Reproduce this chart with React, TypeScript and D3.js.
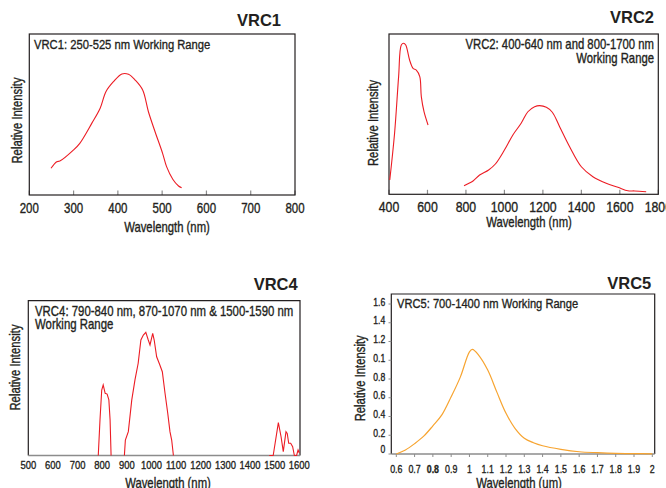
import React from "react";
import * as d3 from "d3";

// ---------- DATA ----------
const vrc1Wavelength = [249, 262, 269, 300, 314, 341, 360, 373, 390, 409, 424, 439, 456, 469, 484, 501, 510, 524, 537, 544];
const vrc1Intensity = [0.166, 0.207, 0.211, 0.28, 0.321, 0.445, 0.539, 0.642, 0.704, 0.752, 0.75, 0.714, 0.652, 0.517, 0.393, 0.259, 0.176, 0.098, 0.056, 0.045];

const vrc2VisWavelength = [404, 429, 450, 464, 476, 487, 507, 525, 542, 560, 568, 582, 603];
const vrc2VisIntensity = [0.089, 0.381, 0.734, 0.931, 0.942, 0.931, 0.838, 0.786, 0.775, 0.734, 0.609, 0.515, 0.432];
const vrc2NirWavelength = [790, 837, 871, 918, 953, 1000, 1044, 1087, 1122, 1157, 1183, 1218, 1249, 1287, 1339, 1400, 1460, 1529, 1590, 1642, 1677, 1737];
const vrc2NirIntensity = [0.054, 0.083, 0.12, 0.152, 0.189, 0.276, 0.37, 0.443, 0.515, 0.546, 0.553, 0.543, 0.512, 0.422, 0.297, 0.172, 0.11, 0.069, 0.044, 0.022, 0.021, 0.016];

const vrc4AWavelength = [784, 791, 798, 804, 812, 820, 827, 832, 836];
const vrc4AIntensity = [0, 0.229, 0.423, 0.456, 0.402, 0.397, 0.359, 0.229, 0];
const vrc4BWavelength = [890, 894, 906, 920, 933, 946, 957, 967, 977, 987, 994, 1005, 1011, 1021, 1034, 1044, 1055, 1066, 1075, 1082, 1089];
const vrc4BIntensity = [0, 0.1, 0.154, 0.359, 0.488, 0.596, 0.746, 0.778, 0.796, 0.746, 0.714, 0.789, 0.746, 0.638, 0.585, 0.541, 0.402, 0.273, 0.154, 0.1, 0];
const vrc4CWavelength = [1478, 1494, 1515, 1526, 1535, 1546, 1551, 1557, 1565, 1573, 1580, 1589, 1595, 1600];
const vrc4CIntensity = [0, 0, 0.212, 0.121, 0.025, 0.154, 0.143, 0.079, 0.079, 0.057, 0, 0, 0.036, 0.016];

const vrc5Wavelength = [0.6, 0.65, 0.7, 0.75, 0.8, 0.85, 0.9, 0.95, 1.0, 1.016, 1.05, 1.1, 1.15, 1.2, 1.25, 1.3, 1.35, 1.4, 1.5, 1.6, 1.7, 1.8, 1.9, 2.0];
const vrc5Intensity = [0.0, 0.043, 0.11, 0.19, 0.3, 0.42, 0.61, 0.82, 1.09, 1.115, 1.055, 0.895, 0.66, 0.434, 0.27, 0.167, 0.12, 0.088, 0.05, 0.024, 0.014, 0.007, 0.004, 0.002];

const vrc1Ticks = [200, 300, 400, 500, 600, 700, 800];
const vrc2Ticks = [400, 600, 800, 1000, 1200, 1400, 1600, 1800];
const vrc4Ticks = [500, 600, 700, 800, 900, 1000, 1100, 1200, 1300, 1400, 1500, 1600];
const vrc5XTicks = [0.6, 0.7, 0.8, 0.9, 1.0, 1.1, 1.2, 1.3, 1.4, 1.5, 1.6, 1.7, 1.8, 1.9, 2.0];
const vrc5XLabels = ["0.6", "0.7", "0.8", "0.9", "1", "1.1", "1.2", "1.3", "1.4", "1.5", "1.6", "1.7", "1.8", "1.9", "2"];
const vrc5YTicks = [0, 0.2, 0.4, 0.6, 0.8, 1.0, 1.2, 1.4, 1.6];
const vrc5YLabels = ["0", "0.2", "0.4", "0.6", "0.8", "0.1", "1.2", "1.4", "1.6"];

// ---------- STYLE ----------
const SANS = "'Liberation Sans',Arial,Helvetica,sans-serif";
const INK = "#231f20";
const RED = "#ec1c24";
const ORANGE = "#f7a430";
const GRAY = "#8c8c8c";
const SQUEEZE = 0.82;

function pts(xs: number[], ys: number[]): [number, number][] {
  return xs.map((x, i) => [x, ys[i]]);
}

// condensed text: regular sans squeezed horizontally, slightly emboldened
function NT(props: { x: number; y: number; size: number; anchor?: string; rot?: boolean; weight?: string; children: React.ReactNode }) {
  const { x, y, size, anchor = "start", rot = false, weight = "normal", children } = props;
  return (
    <text
      transform={`translate(${x},${y})${rot ? " rotate(-90)" : ""} scale(${SQUEEZE},1)`}
      textAnchor={anchor}
      fontFamily={SANS}
      fontSize={size}
      fontWeight={weight}
      fill={INK}
      stroke={INK}
      strokeWidth={0.35}
    >
      {children}
    </text>
  );
}

export default function App() {
  const x1 = d3.scaleLinear().domain([200, 800]).range([29.3, 295]);
  const y1 = d3.scaleLinear().domain([0, 1]).range([195, 34]);
  const l1 = d3.line<[number, number]>().x(d => x1(d[0])).y(d => y1(d[1])).curve(d3.curveCatmullRom);

  const x2 = d3.scaleLinear().domain([400, 1800]).range([389, 658.3]);
  const y2 = d3.scaleLinear().domain([0, 1]).range([194.3, 34]);
  const l2 = d3.line<[number, number]>().x(d => x2(d[0])).y(d => y2(d[1])).curve(d3.curveCatmullRom);

  const x4 = d3.scaleLinear().domain([500, 1600]).range([28.3, 299.3]);
  const y4 = d3.scaleLinear().domain([0, 1]).range([455.5, 300.7]);
  const l4 = d3.line<[number, number]>().x(d => x4(d[0])).y(d => y4(d[1]));

  const x5 = d3.scaleLinear().domain([0.6, 2.0]).range([396.3, 652.3]);
  const y5 = d3.scaleLinear().domain([0, 1.6]).range([454, 304]);
  const l5 = d3.line<[number, number]>().x(d => x5(d[0])).y(d => y5(d[1])).curve(d3.curveCatmullRom);

  return (
    <svg width={666} height={488} style={{ position: "absolute", left: 0, top: 0, background: "#fff" }}>
      <rect width={666} height={488} fill="#fff" />

      {/* ===== VRC1 ===== */}
      <text x={281} y={26} textAnchor="end" fontFamily={SANS} fontWeight="bold" fontSize={16.5} fill={INK}>VRC1</text>
      {vrc1Ticks.map(t => (
        <line key={t} x1={x1(t)} x2={x1(t)} y1={195} y2={190.5} stroke={GRAY} strokeWidth={1.2} />
      ))}
      <rect x={29.3} y={34} width={295 - 29.3} height={195 - 34} fill="none" stroke={INK} strokeWidth={1.2} />
      <NT x={34} y={49.3} size={13.7}>VRC1: 250-525 nm Working Range</NT>
      <path d={l1(pts(vrc1Wavelength, vrc1Intensity)) || ""} fill="none" stroke={RED} strokeWidth={1.1} />
      {vrc1Ticks.map(t => (
        <NT key={t} x={x1(t)} y={213.3} size={14} anchor="middle">{t}</NT>
      ))}
      <NT x={167} y={232} size={13.8} anchor="middle">Wavelength (nm)</NT>
      <NT x={21.5} y={120.5} size={13.8} anchor="middle" rot>Relative Intensity</NT>

      {/* ===== VRC2 ===== */}
      <text x={654} y={22.5} textAnchor="end" fontFamily={SANS} fontWeight="bold" fontSize={16.5} fill={INK}>VRC2</text>
      {vrc2Ticks.map(t => (
        <line key={t} x1={x2(t)} x2={x2(t)} y1={194.3} y2={189.8} stroke={GRAY} strokeWidth={1.2} />
      ))}
      <rect x={389} y={34} width={658.3 - 389} height={194.3 - 34} fill="none" stroke={INK} strokeWidth={1.2} />
      <NT x={654} y={49.3} size={13.8} anchor="end">VRC2: 400-640 nm and 800-1700 nm</NT>
      <NT x={654} y={62.7} size={13.8} anchor="end">Working Range</NT>
      <path d={l2(pts(vrc2VisWavelength, vrc2VisIntensity)) || ""} fill="none" stroke={RED} strokeWidth={1.1} />
      <path d={l2(pts(vrc2NirWavelength, vrc2NirIntensity)) || ""} fill="none" stroke={RED} strokeWidth={1.1} />
      {vrc2Ticks.map(t => (
        <NT key={t} x={x2(t)} y={211.7} size={15} anchor="middle">{t}</NT>
      ))}
      <NT x={529} y={227} size={13.8} anchor="middle">Wavelength (nm)</NT>
      <NT x={378} y={123} size={13.8} anchor="middle" rot>Relative Intensity</NT>

      {/* ===== VRC4 ===== */}
      <text x={297.7} y={290} textAnchor="end" fontFamily={SANS} fontWeight="bold" fontSize={16.5} fill={INK}>VRC4</text>
      <path d={`M28.3,455.5 V300.7 H300 V455.5`} fill="none" stroke={INK} strokeWidth={1.2} />
      <line x1={28.3} x2={300} y1={455.5} y2={455.5} stroke={GRAY} strokeWidth={1.6} />
      <NT x={35} y={315.7} size={13.9}>VRC4: 790-840 nm, 870-1070 nm &amp; 1500-1590 nm</NT>
      <NT x={35} y={329.3} size={13.9}>Working Range</NT>
      <path d={l4(pts(vrc4AWavelength, vrc4AIntensity)) || ""} fill="none" stroke={RED} strokeWidth={1.1} />
      <path d={l4(pts(vrc4BWavelength, vrc4BIntensity)) || ""} fill="none" stroke={RED} strokeWidth={1.1} />
      <path d={l4(pts(vrc4CWavelength, vrc4CIntensity)) || ""} fill="none" stroke={RED} strokeWidth={1.1} />
      {vrc4Ticks.map(t => (
        <NT key={t} x={x4(t)} y={469.3} size={11.5} anchor="middle">{t}</NT>
      ))}
      <NT x={168} y={488} size={13.8} anchor="middle">Wavelength (nm)</NT>
      <NT x={20} y={367.5} size={13.8} anchor="middle" rot>Relative Intensity</NT>

      {/* ===== VRC5 ===== */}
      <text x={651.3} y={289} textAnchor="end" fontFamily={SANS} fontWeight="bold" fontSize={16.5} fill={INK}>VRC5</text>
      <path d={`M391.3,454 V294 H654.7 V454`} fill="none" stroke={INK} strokeWidth={1.2} />
      <line x1={391.3} x2={654.7} y1={454} y2={454} stroke={GRAY} strokeWidth={1.6} />
      {vrc5YTicks.map((t, i) => (
        <g key={t}>
          <line x1={388.5} x2={391.3} y1={y5(t)} y2={y5(t)} stroke={GRAY} strokeWidth={1} />
          <NT x={385.3} y={y5(t) + (i === 0 ? -1.5 : 1.5)} size={10.5} anchor="end">{vrc5YLabels[i]}</NT>
        </g>
      ))}
      {vrc5XTicks.map((t, i) => (
        <g key={t}>
          <line x1={x5(t)} x2={x5(t)} y1={454} y2={457} stroke={GRAY} strokeWidth={1} />
          <NT x={x5(t)} y={472.7} size={10.8} anchor="middle" weight={vrc5XLabels[i] === "0.8" ? "bold" : "normal"}>{vrc5XLabels[i]}</NT>
        </g>
      ))}
      <NT x={397} y={307.7} size={13.6}>VRC5: 700-1400 nm Working Range</NT>
      <path d={l5(pts(vrc5Wavelength, vrc5Intensity)) || ""} fill="none" stroke={ORANGE} strokeWidth={1.2} />
      <NT x={519} y={488} size={13.8} anchor="middle">Wavelength (um)</NT>
      <NT x={364.7} y={378.3} size={13.8} anchor="middle" rot>Relative Intensity</NT>
    </svg>
  );
}
